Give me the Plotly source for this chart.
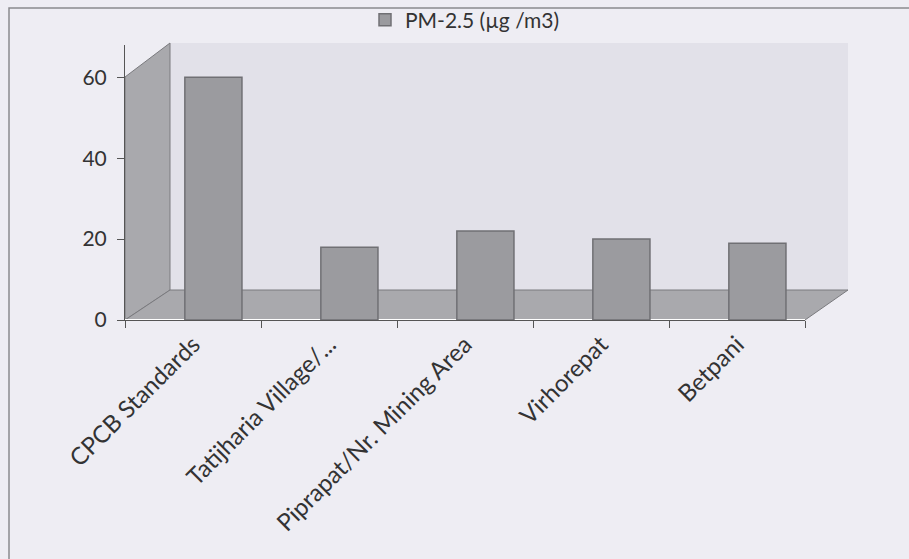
import plotly.graph_objects as go

categories = ["CPCB Standards", "Tatijharia Village/...", "Piprapat/Nr. Mining Area", "Virhorepat", "Betpani"]
pm25 = [60, 18, 22, 20, 19]
series_name = "PM-2.5 (µg /m3)"
y_ticks = [0, 20, 40, 60]

W, H = 909, 559
ml, mr, mt, mb = 125, 104, 45, 239
pw, ph = W - ml - mr, H - mt - mb


def px(x):
    return (x - ml) / pw


def py(y):
    return (H - mb - y) / ph


fig = go.Figure()
fig.add_trace(go.Bar(
    x=categories, y=pm25, name=series_name,
    width=0.42, offset=-0.06,
    marker=dict(color="#9b9b9f", line=dict(color="#707074", width=1.5)),
    showlegend=True,
))

fig.update_layout(
    width=W, height=H,
    margin=dict(l=ml, r=mr, t=mt, b=mb, autoexpand=False),
    paper_bgcolor="#eeedf3",
    plot_bgcolor="rgba(0,0,0,0)",
    font=dict(family="Lato, Liberation Sans, sans-serif", size=20, color="#333333"),
    showlegend=True,
    legend=dict(orientation="h", x=0.5, xanchor="center", y=(H - 20) / H, yanchor="middle",
                yref="container", bgcolor="rgba(0,0,0,0)", font=dict(size=21)),
    xaxis=dict(tickangle=-45, showgrid=False, showline=True, linecolor="#555555",
               ticks="outside", ticklen=7, tickcolor="#555555", automargin=False,
               tickson="boundaries",
               range=[-0.5, 4.5], tickfont=dict(size=24)),
    yaxis=dict(range=[0, 68], tickvals=y_ticks, showgrid=False, showline=True,
               linecolor="#555555", ticks="outside", ticklen=7, tickcolor="#555555",
               automargin=False, ticklabelstandoff=6, tickfont=dict(size=21)),
)

wall = "#e2e1e9"
side = "#a9a9ad"
edge = "#7a7a7e"
# back wall
fig.add_shape(type="rect", xref="paper", yref="paper",
              x0=px(170), x1=px(848), y0=py(290), y1=py(43),
              fillcolor=wall, line=dict(width=0), layer="below")
# left wall
fig.add_shape(type="path", xref="paper", yref="paper",
              path=f"M {px(125)} {py(320)} L {px(125)} {py(77)} L {px(170)} {py(43)} L {px(170)} {py(290)} Z",
              fillcolor=side, line=dict(color=edge, width=1), layer="below")
# floor
fig.add_shape(type="path", xref="paper", yref="paper",
              path=f"M {px(125)} {py(320)} L {px(805)} {py(320)} L {px(848)} {py(290)} L {px(170)} {py(290)} Z",
              fillcolor=side, line=dict(color=edge, width=1), layer="below")
# outer frame (top and left edges visible)
fig.add_shape(type="path", xref="paper", yref="paper",
              path=f"M {px(9)} {py(H + 5)} L {px(9)} {py(8)} L {px(W + 5)} {py(8)}",
              line=dict(color="#8a8a8e", width=1.5), layer="below")

fig.write_html("out.html", config={"displayModeBar": False},
               post_script="document.body.style.margin='0';document.body.style.overflow='hidden';")
